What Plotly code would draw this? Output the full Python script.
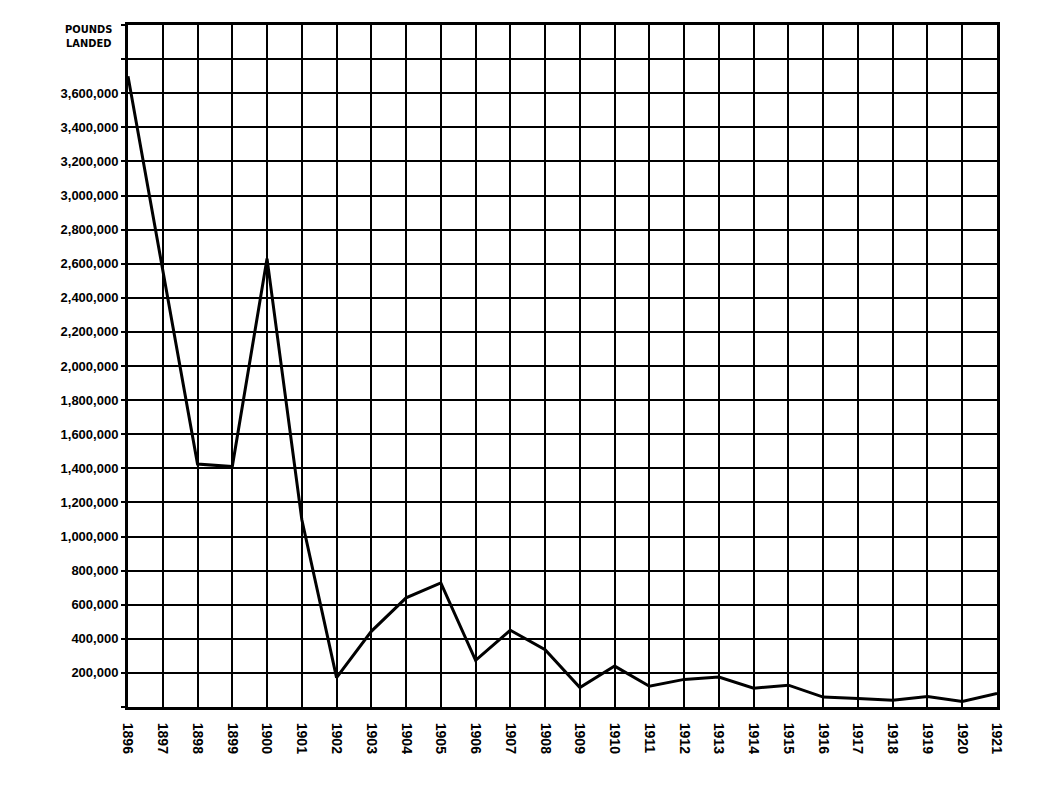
import plotly.graph_objects as go

years = list(range(1896, 1922))
pounds_landed = [
    3700000, 2560000, 1425000, 1410000, 2630000, 1100000, 172000, 444000,
    640000, 728000, 274000, 450000, 336000, 114000, 240000, 122000,
    162000, 176000, 110000, 128000, 58000, 50000, 40000, 62000, 32000, 80000,
]

y_tick_vals = list(range(0, 4000001, 200000))
y_tick_text = ["" if (v == 0 or v > 3600000) else f"{v:,}" for v in y_tick_vals]
x_tick_text = [str(y) for y in years]

FONT = "Liberation Sans"

fig = go.Figure()
fig.add_trace(go.Scatter(
    x=years, y=pounds_landed, mode="lines",
    line=dict(color="black", width=3),
    showlegend=False, hoverinfo="skip",
))

fig.update_layout(
    width=1044, height=796,
    margin=dict(l=120, r=55, t=17, b=97),
    paper_bgcolor="white", plot_bgcolor="white",
    font=dict(family=FONT, size=15, color="black"),
    xaxis=dict(
        range=[1896, 1921], tickvals=years, ticktext=x_tick_text,
        tickangle=90, showgrid=True, gridcolor="black", gridwidth=2,
        showline=True, linecolor="black", linewidth=3, mirror=True,
        zeroline=False, ticks="", ticklabelstandoff=10, automargin=False,
        tickfont=dict(family=FONT, size=14, color="black", weight="bold"),
    ),
    yaxis=dict(
        range=[0, 4000000], tickvals=y_tick_vals, ticktext=y_tick_text,
        showgrid=True, gridcolor="black", gridwidth=2,
        showline=True, linecolor="black", linewidth=3, mirror=True,
        zeroline=False, ticks="outside", ticklen=4, tickcolor="black", tickwidth=2,
        automargin=False,
        tickfont=dict(family=FONT, size=13, color="black", weight="bold"),
    ),
    annotations=[dict(
        text="POUNDS<br>LANDED", xref="paper", yref="y", x=0, y=3930000,
        xanchor="right", yanchor="middle", xshift=-14, showarrow=False, align="center",
        font=dict(family="Liberation Sans Narrow, DejaVu Sans Condensed, sans-serif",
                  size=11, color="black", weight="bold"),
    )],
)

fig.write_html("out.html")
